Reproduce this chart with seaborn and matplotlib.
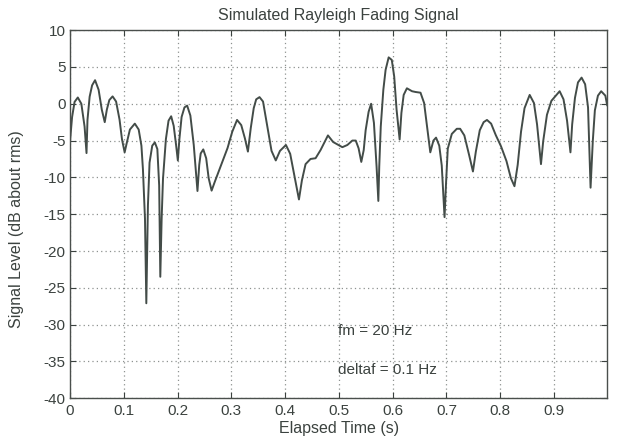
import matplotlib
matplotlib.use("Agg")
import matplotlib.pyplot as plt
import numpy as np
import pandas as pd
import seaborn as sns

# Envelope of the simulated fading signal, in dB relative to its rms value
time_s = [
    0.000, 0.004, 0.0086, 0.0146, 0.0212, 0.0272, 0.0308, 0.0326, 0.0366, 0.0412,
    0.0467, 0.0533, 0.0592, 0.0647, 0.0686, 0.0732, 0.0793, 0.0858, 0.0922, 0.0968,
    0.1017, 0.1057, 0.1115, 0.1206, 0.1278, 0.1329, 0.1357, 0.1395, 0.142, 0.1435,
    0.145, 0.148, 0.153, 0.1578, 0.1625, 0.1659, 0.168, 0.1705, 0.173, 0.1784,
    0.1833, 0.1882, 0.1929, 0.1975, 0.2006, 0.2035, 0.2076, 0.2129, 0.2179, 0.2239,
    0.2302, 0.2371, 0.2404, 0.2431, 0.2479, 0.2533, 0.2579, 0.2634, 0.2693, 0.2812,
    0.2931, 0.3018, 0.3107, 0.3185, 0.3253, 0.3309, 0.3362, 0.3417, 0.3463, 0.3525,
    0.359, 0.3676, 0.3748, 0.3827, 0.3905, 0.4016, 0.4095, 0.4166, 0.4258, 0.4313,
    0.4381, 0.4473, 0.4567, 0.4659, 0.4797, 0.4894, 0.5065, 0.5158, 0.5251, 0.5314,
    0.5367, 0.5417, 0.5462, 0.5498, 0.5553, 0.5600, 0.5652, 0.5701, 0.5734, 0.5751,
    0.5779, 0.5827, 0.5869, 0.5926, 0.5984, 0.6029, 0.6073, 0.613, 0.6163, 0.6205,
    0.6265, 0.6361, 0.6424, 0.6518, 0.6585, 0.6639, 0.67, 0.6758, 0.6807, 0.6867,
    0.6913, 0.6965, 0.6994, 0.7025, 0.71, 0.7193, 0.7255, 0.7333, 0.7423, 0.7493,
    0.7547, 0.762, 0.7692, 0.7754, 0.7831, 0.7917, 0.8016, 0.8117, 0.8198, 0.8265,
    0.8325, 0.8387, 0.8452, 0.8548, 0.8627, 0.8685, 0.8758, 0.8799, 0.8869, 0.8952,
    0.9105, 0.9177, 0.9243, 0.9306, 0.9338, 0.939, 0.9446, 0.9513, 0.9579, 0.9633,
    0.968, 0.9722, 0.976, 0.9817, 0.9877, 0.9955, 0.999,
]

level_db = [
    -5.2, -1.8, 0.25, 0.85, 0.0, -3.1, -6.7, -2.2, 0.95, 2.5,
    3.2, 1.9, -0.8, -2.5, -0.8, 0.5, 1.0, 0.3, -2.15, -4.85,
    -6.6, -5.3, -3.5, -2.7, -3.5, -5.7, -8.9, -15.6, -27.1, -20.1,
    -13.8, -8.0, -5.7, -5.25, -6.15, -11.1, -23.5, -15.6, -10.2, -4.8,
    -2.3, -1.7, -3.0, -5.7, -7.7, -4.8, -1.8, -0.5, -0.25, -1.6,
    -5.6, -11.85, -8.3, -6.75, -6.2, -7.4, -10.1, -11.8, -10.6, -8.3,
    -6.0, -3.8, -2.2, -2.9, -4.7, -6.5, -3.3, -0.6, 0.6, 0.9,
    0.3, -3.3, -6.4, -7.7, -6.4, -5.6, -6.8, -9.5, -13.0, -10.4,
    -8.2, -7.5, -7.4, -6.3, -4.3, -5.2, -5.9, -5.6, -5.0, -5.0,
    -6.05, -7.9, -6.3, -3.6, -1.1, 0.0, -2.6, -8.5, -13.2, -8.5,
    -3.1, 1.9, 4.6, 6.3, 5.95, 3.7, -0.8, -4.85, -1.25, 1.2,
    2.1, 1.7, 1.6, 1.5, 0.1, -3.0, -6.6, -5.0, -4.6, -5.7,
    -8.4, -15.4, -10.6, -6.1, -4.1, -3.4, -3.4, -4.3, -7.0, -9.2,
    -6.5, -3.6, -2.5, -2.2, -2.7, -4.25, -5.8, -7.8, -10.1, -11.2,
    -8.3, -3.8, -0.6, 1.2, 0.1, -2.8, -8.2, -5.1, -1.5, 0.4,
    1.7, 0.6, -2.3, -6.6, -2.8, 0.8, 2.9, 3.55, 2.65, -0.5,
    -11.4, -5.0, -0.9, 1.1, 1.7, 1.1, -0.25,
]

x_ticks = [0, 0.1, 0.2, 0.3, 0.4, 0.5, 0.6, 0.7, 0.8, 0.9]
x_tick_labels = ["0", "0.1", "0.2", "0.3", "0.4", "0.5", "0.6", "0.7", "0.8", "0.9"]
y_ticks = [10, 5, 0, -5, -10, -15, -20, -25, -30, -35, -40]
y_tick_labels = ["10", "5", "0", "-5", "-10", "-15", "-20", "-25", "-30", "-35", "-40"]

params = ["fm = 20 Hz", "deltaf = 0.1 Hz"]

df = pd.DataFrame({"t": time_s, "level": level_db})

sns.set_theme(style="ticks")
ink = "#3b423f"
plt.rcParams["font.family"] = ["Liberation Sans", "DejaVu Sans"]
plt.rcParams["text.color"] = ink
plt.rcParams["axes.labelcolor"] = ink
plt.rcParams["xtick.color"] = ink
plt.rcParams["ytick.color"] = ink

fig = plt.figure(figsize=(6.19, 4.43), dpi=100)
ax = fig.add_axes([0.113, 0.101, 0.868, 0.831])

sns.lineplot(data=df, x="t", y="level", ax=ax, color="#434c48",
             linewidth=1.4, estimator=None, sort=False)

ax.set_xlim(0, 0.999)
ax.set_ylim(-40, 10)
ax.set_xticks(x_ticks)
ax.set_xticklabels(x_tick_labels)
ax.set_yticks(y_ticks)
ax.set_yticklabels(y_tick_labels)
ax.tick_params(direction="in", length=4, width=0.8, top=True, right=True,
               labelsize=11, pad=3)
ax.tick_params(axis="x", pad=4)
ax.grid(True, linestyle=(0, (1, 2.5)), color="#8e9290", linewidth=0.9)
for side in ax.spines.values():
    side.set_color("#4a4f4c")
    side.set_linewidth(1.0)

ax.set_title("Simulated Rayleigh Fading Signal", fontsize=11.5, pad=7)
ax.set_xlabel("Elapsed Time (s)", fontsize=11.5, labelpad=2)
ax.set_ylabel("Signal Level (dB about rms)", fontsize=11.5)
ax.yaxis.set_label_coords(-0.085, 0.46)

ax.text(0.498, -30.9, params[0], fontsize=11, va="center", ha="left")
ax.text(0.498, -36.1, params[1], fontsize=11, va="center", ha="left")

fig.savefig("out.png", dpi=100, facecolor="white")
